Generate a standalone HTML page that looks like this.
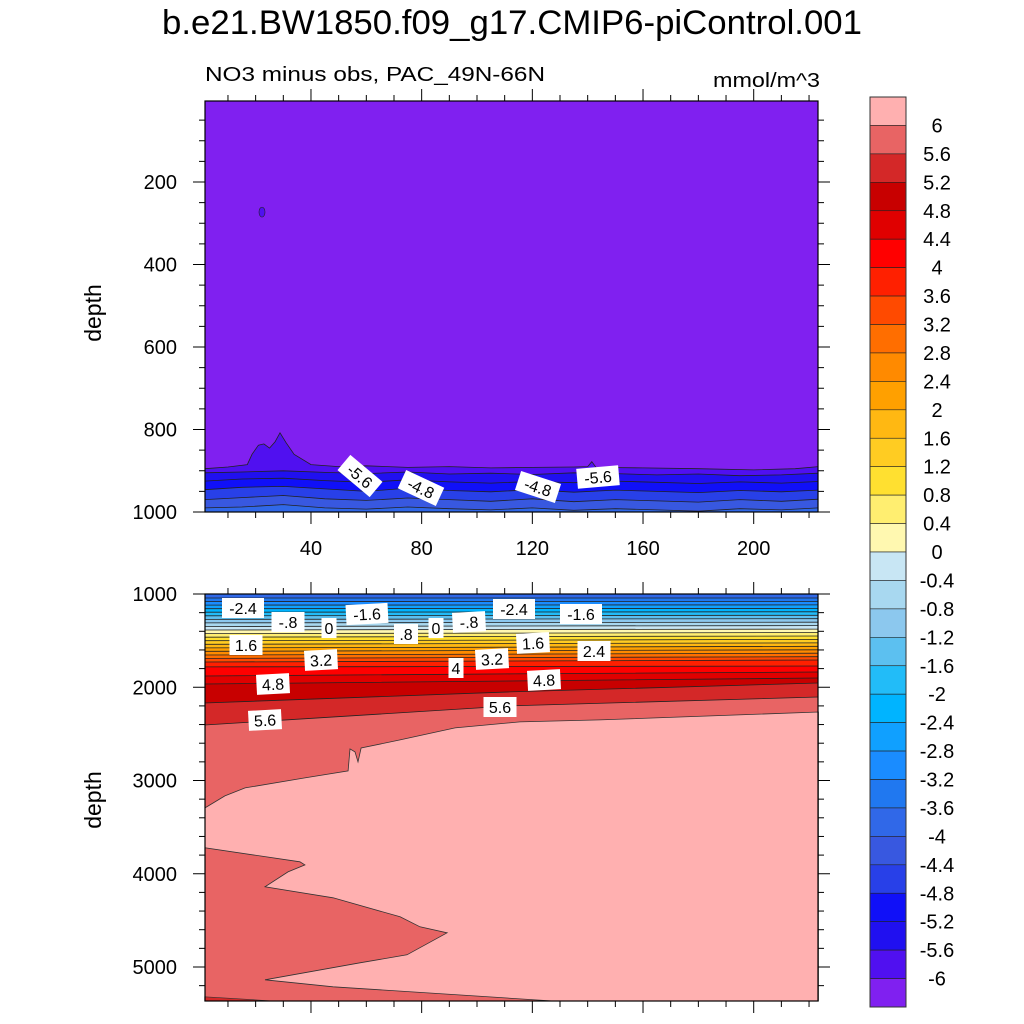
<!DOCTYPE html>
<html><head><meta charset="utf-8"><style>
html,body{margin:0;padding:0;background:#fff;}
svg{display:block;font-family:"Liberation Sans",sans-serif;}
</style></head><body>
<svg id="chart" width="1024" height="1024" viewBox="0 0 1024 1024">
<text x="512" y="34" font-size="34" text-anchor="middle" textLength="700" lengthAdjust="spacingAndGlyphs">b.e21.BW1850.f09_g17.CMIP6-piControl.001</text>
<text x="205" y="81" font-size="20" textLength="340" lengthAdjust="spacingAndGlyphs">NO3 minus obs, PAC_49N-66N</text>
<text x="820" y="87" font-size="20" text-anchor="end" textLength="107" lengthAdjust="spacingAndGlyphs">mmol/m^3</text>
<g id="gtop"></g>
<g id="gbot"></g>
<g id="cbar"></g>
</svg>
<script>
const levels=[-6,-5.6,-5.2,-4.8,-4.4,-4,-3.6,-3.2,-2.8,-2.4,-2,-1.6,-1.2,-0.8,-0.4,0,0.4,0.8,1.2,1.6,2,2.4,2.8,3.2,3.6,4,4.4,4.8,5.2,5.6,6];
const levelLabels=["-6","-5.6","-5.2","-4.8","-4.4","-4","-3.6","-3.2","-2.8","-2.4","-2","-1.6","-1.2","-0.8","-0.4","0","0.4","0.8","1.2","1.6","2","2.4","2.8","3.2","3.6","4","4.4","4.8","5.2","5.6","6"];
const colors=["#8020F0","#5010F0","#2010F0","#1010F8","#2840E8","#3858E0","#3068E8","#2078F0","#1A8CFF","#10A0FF","#00B4FF","#22BCF8","#5CC0F0","#8CC8EE","#A8D8F0","#C8E6F4","#FFF8B0","#FFEE70","#FFE030","#FFCC22","#FFB812","#FFA000","#FF8A00","#FF6E00","#FF4A00","#FF2000","#FF0000","#E00000","#C80000","#D42828","#E86464","#FFB0B0"];
// upper panel
const topXTicks=[40,80,120,160,200];
const topYTicks=[200,400,600,800,1000];
const topLevels=[-5.6,-5.2,-4.8,-4.4,-4.0];
const topX=[1.6,15,30,45,60,75,90,105,120,135,150,165,180,195,210,223.4];
const topD56=[905,903,900,904,907,903,908,906,909,905,907,910,908,912,910,906];
const topD52=[925,920,918,924,928,922,927,930,926,929,925,928,931,927,930,926];
const topD48=[946,940,938,944,950,942,948,951,946,952,947,950,953,948,951,947];
const topD44=[970,965,960,968,972,966,970,974,968,975,970,973,976,970,974,969];
const topD40=[990,988,982,990,993,988,992,995,990,996,992,995,998,992,995,990];
const topX6=[1.6,10,17,18.7,21,23,25,27,28.8,31,33.9,40,50,60,75,90,105,120,135,140,141.5,143,160,180,200,215,223.4];
const topD6=[895,891,885,860,838,835,845,830,808,832,860,885,890,888,892,890,893,892,891,890,878,892,893,895,898,895,890];
// lower panel
const botYTicks=[1000,2000,3000,4000,5000];
const botLevels=[-3.6,-3.2,-2.8,-2.4,-2,-1.6,-1.2,-0.8,-0.4,0,0.4,0.8,1.2,1.6,2,2.4,2.8,3.2,3.6,4,4.4,4.8,5.2,5.6];
const botX=[1.6,112,223.4];
const botLeft=[1043,1081,1119,1158,1195,1234,1272,1310,1348,1386,1425,1463,1501,1539,1578,1615,1654,1691,1729,1782,1879,1965,2169,2405];
const botMid=[1043,1080,1118,1156,1193,1231,1268,1306,1343,1381,1419,1456,1494,1531,1570,1606,1645,1681,1718,1777,1857,1933,2050,2200];
const botRight=[1043,1080,1117,1154,1191,1228,1265,1302,1339,1376,1413,1450,1487,1524,1561,1598,1635,1672,1708,1772,1836,1901,1954,2105];
const pinkX=[1.7,8.9,16.2,37.8,53.4,54.1,55.9,57,58.1,72.2,92.1,115.5,144.5,223.4,223.4,127.5,48,23.4,57.7,74.7,89.2,79.4,72.2,48,23.4,31.7,37.8,36,1.7];
const pinkD=[3294,3165,3079,2972,2897,2661,2693,2801,2651,2565,2436,2372,2350,2265,5365,5365,5212,5137,4955,4869,4633,4569,4462,4258,4140,3980,3905,3872,3722];
const cornerX=[1.6,10,26.5,1.6];
const cornerD=[5320,5335,5365,5365];

const NS="http://www.w3.org/2000/svg";
function mk(tag,attrs,parent){const e=document.createElementNS(NS,tag);for(const k in attrs)e.setAttribute(k,attrs[k]);parent.appendChild(e);return e;}
function colorFor(lv){let i=levels.findIndex(v=>Math.abs(v-lv)<1e-6);return colors[i+1];}
const XL=205,XR=818;
const xs=x=>200.3+x*2.767;
const topY=d=>99.5+d*0.4125;
const botY=d=>594+(d-1000)*0.09325;
const TT=101,TB=512,BT=594,BB=1001;
const gTop=document.getElementById('gtop'),gBot=document.getElementById('gbot'),cb=document.getElementById('cbar');

let r=mk('rect',{x:XL,y:TT,width:XR-XL,height:TB-TT,fill:colors[0]},gTop);


function fillBand(parent,xarr,darr,ymap,bottom,col,name){
  let pts=xarr.map((x,i)=>xs(x).toFixed(1)+','+ymap(darr[i]).toFixed(1));
  const p=mk('polygon',{points:pts.join(' ')+' '+xs(xarr[xarr.length-1]).toFixed(1)+','+bottom+' '+xs(xarr[0]).toFixed(1)+','+bottom,fill:col},parent);
  
  
  const l=mk('polyline',{points:pts.join(' '),fill:'none',stroke:'#222','stroke-width':0.8},parent);
  
  
}
fillBand(gTop,topX6,topD6,topY,TB,colorFor(-6),'band-top--6');
const topD=[topD56,topD52,topD48,topD44,topD40];
topLevels.forEach((lv,i)=>fillBand(gTop,topX,topD[i],topY,TB,colorFor(lv),'band-top-'+lv));
let blob=mk('ellipse',{cx:xs(22.3),cy:topY(273),rx:3,ry:5,fill:colorFor(-6),stroke:'#222','stroke-width':0.6},gTop);



r=mk('rect',{x:XL,y:BT,width:XR-XL,height:BB-BT,fill:colorFor(-4)},gBot);


botLevels.forEach((lv,i)=>fillBand(gBot,botX,[botLeft[i],botMid[i],botRight[i]],botY,BB,colorFor(lv),'band-bot-'+lv));
let pk=mk('polygon',{points:pinkX.map((x,i)=>xs(x).toFixed(1)+','+botY(pinkD[i]).toFixed(1)).join(' '),fill:colorFor(6),stroke:'#333','stroke-width':0.8},gBot);


let cr=mk('polygon',{points:cornerX.map((x,i)=>xs(x).toFixed(1)+','+botY(cornerD[i]).toFixed(1)).join(' '),fill:colorFor(5.2),stroke:'#333','stroke-width':0.6},gBot);



const labels=[
 [gTop,'-5.6',360,476,40],[gTop,'-4.8',421,488,25],[gTop,'-4.8',538,487,18],[gTop,'-5.6',598,477,-5],
 [gBot,'-2.4',243,608,0],[gBot,'-.8',288,622,0],[gBot,'0',329,628,0],[gBot,'-1.6',367,614,-3],[gBot,'.8',406,634,0],
 [gBot,'0',436,628,0],[gBot,'-.8',469,622,-3],[gBot,'-2.4',514,609,0],[gBot,'-1.6',581,614,0],[gBot,'1.6',246,645,0],
 [gBot,'3.2',321,660,-3],[gBot,'4',456,668,0],[gBot,'3.2',492,659,-3],[gBot,'1.6',533,643,-3],[gBot,'2.4',594,651,0],
 [gBot,'4.8',273,684,-3],[gBot,'4.8',544,680,-3],[gBot,'5.6',265,720,-3],[gBot,'5.6',500,707,0]];
labels.forEach(([g,t,x,y,rot])=>{
  const gg=mk('g',{transform:`translate(${x},${y}) rotate(${rot})`},g);
  
  
  const w=t.length*9+6;
  mk('rect',{x:-w/2,y:-10,width:w,height:20,fill:'#fff'},gg);
  mk('text',{x:0,y:6,'font-size':16,'text-anchor':'middle'},gg).textContent=t;
});

function frame(parent,yt,yb,name){
  const f=mk('rect',{x:XL,y:yt,width:XR-XL,height:yb-yt,fill:'none',stroke:'#000','stroke-width':1.2},parent);
  
  
  for(let x=10;x<=220;x+=10){
    const px=xs(x),major=x%40===0,len=major?12:6;
    mk('line',{x1:px,x2:px,y1:yt,y2:yt-len,stroke:'#000','stroke-width':1},parent);
    mk('line',{x1:px,x2:px,y1:yb,y2:yb+len,stroke:'#000','stroke-width':1},parent);
  }
}
frame(gTop,TT,TB,'upper-frame');
frame(gBot,BT,BB,'lower-frame');
topXTicks.forEach(v=>{const t=mk('text',{x:xs(v),y:555,'font-size':20,'text-anchor':'middle'},gTop);t.textContent=v;
 
 });
for(let d=50;d<=1000;d+=50){const py=topY(d),major=d%200===0,len=major?12:6;
 mk('line',{x1:XL,x2:XL-len,y1:py,y2:py,stroke:'#000'},gTop);mk('line',{x1:XR,x2:XR+len,y1:py,y2:py,stroke:'#000'},gTop);}
topYTicks.forEach(v=>{const t=mk('text',{x:177,y:topY(v)+7,'font-size':20,'text-anchor':'end'},gTop);t.textContent=v;
 
 });
for(let d=1000;d<=5365;d+=200){const py=botY(d),major=d%1000===0,len=major?12:6;
 mk('line',{x1:XL,x2:XL-len,y1:py,y2:py,stroke:'#000'},gBot);mk('line',{x1:XR,x2:XR+len,y1:py,y2:py,stroke:'#000'},gBot);}
botYTicks.forEach(v=>{const t=mk('text',{x:177,y:botY(v)+7,'font-size':20,'text-anchor':'end'},gBot);t.textContent=v;
 
 });
[[313,'y-axis-title-upper'],[800,'y-axis-title-lower']].forEach(([y,n])=>{
 const t=mk('text',{x:101,y:y,'font-size':23,'text-anchor':'middle',transform:`rotate(-90 101 ${y})`},document.getElementById('chart'));
 t.textContent='depth';
 
 });

const CX=870,CW=36,CT=97,CB=1007,bh=(CB-CT)/colors.length;
colors.slice().reverse().forEach((c,i)=>{const b=mk('rect',{x:CX,y:CT+i*bh,width:CW,height:bh,fill:c,stroke:'#222','stroke-width':0.6},cb);
 
 });
mk('rect',{x:CX,y:CT,width:CW,height:CB-CT,fill:'none',stroke:'#333','stroke-width':1},cb);
levelLabels.slice().reverse().forEach((t,i)=>{const e=mk('text',{x:937,y:CT+(i+1)*bh+7,'font-size':20,'text-anchor':'middle'},cb);e.textContent=t;
 
 });
</script>
</body></html>
